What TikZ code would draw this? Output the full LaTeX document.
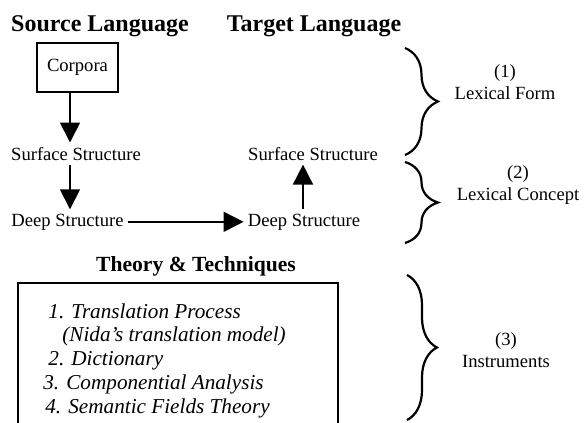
\documentclass[tikz,border=0pt]{standalone}
\usepackage{fontspec}
\setmainfont{Liberation Serif}
\usepackage{tikz}
\usetikzlibrary{arrows.meta,decorations.pathreplacing}
\tikzset{
  head label/.style={font=\fontsize{12}{14}\selectfont\bfseries,inner sep=0pt,anchor=base},
  level label/.style={font=\fontsize{9.3}{11}\selectfont,inner sep=2pt,anchor=base},
  corpus box/.style={draw,line width=1pt,minimum width=40.5pt,minimum height=24.5pt,inner sep=0pt,font=\fontsize{9.3}{11}\selectfont},
  flow arrow/.style={-{Triangle[length=10pt,width=10pt]},line width=0.85pt},
  group brace/.style={decorate,decoration={brace,amplitude=#1},line width=1.1pt},
  group label/.style={font=\fontsize{9.3}{11}\selectfont,align=center,inner sep=0pt},
  tool box/.style={draw,line width=1pt,anchor=north west,minimum width=160pt,minimum height=80pt},
  tool list/.style={font=\fontsize{10.6}{11.9}\selectfont\itshape,align=left,inner sep=0pt,anchor=north west}
}

\begin{document}
\begin{tikzpicture}[x=0.5pt,y=-0.5pt]
  \path[use as bounding box,clip] (0,0) rectangle (584,423);
  % languages
  \node[head label] (srclang) at (100,32) {Source Language};
  \node[head label] (tgtlang) at (314,32) {Target Language};
  \node[corpus box] (corpora) at (77.5,67.5) {Corpora};
  \node[level label] (srcsurf) at (76,160) {Surface Structure};
  \node[level label] (srcdeep) at (67.5,226) {Deep Structure};
  \node[level label] (tgtdeep) at (304,226) {Deep Structure};
  \node[level label] (tgtsurf) at (313,160) {Surface Structure};
  \draw[flow arrow] ([xshift=-3.75pt]corpora.south) -- ([xshift=-3.75pt]corpora.south |- srcsurf.north);
  \draw[flow arrow] ([xshift=-3pt]srcsurf.south) -- ([xshift=-3pt]srcsurf.south |- srcdeep.north);
  \draw[flow arrow] (srcdeep.east) -- (tgtdeep.west);
  \draw[flow arrow] ([xshift=-0.5pt]tgtdeep.north) -- ([xshift=-0.5pt]tgtdeep.north |- tgtsurf.south);
  % braces
  \coordinate (formtop) at (405,48);
  \coordinate (formbot) at (405,155);
  \coordinate (concepttop) at (405,162);
  \coordinate (conceptbot) at (405,243);
  \coordinate (tooltop) at (407,275);
  \coordinate (toolbot) at (407,420);
  \draw[group brace=16.5pt] (formtop) -- (formbot);
  \draw[group brace=16.5pt] (concepttop) -- (conceptbot);
  \draw[group brace=15pt] (tooltop) -- (toolbot);
  \node[group label] (formlab) at (505,82) {(1)\\Lexical Form};
  \node[group label] (conceptlab) at (518,185) {(2)\\Lexical Concept};
  \node[group label] (toollab) at (506,350) {(3)\\Instruments};
  % instruments
  \node[head label,font=\fontsize{10.8}{13}\selectfont\bfseries] (theory) at (196,271) {Theory \& Techniques};
  \node[tool box] (toolbox) at (17,282) {};
  \node[tool list] (tools) at ([shift={(26,21)}]toolbox.north west) {\hspace*{2.5pt}1. Translation Process\\
    \hspace*{9.5pt}(Nida's translation model)\\
    \hspace*{2.5pt}2. Dictionary\\
    3. Componential Analysis\\
    \hspace*{1pt}4. Semantic Fields Theory};
\end{tikzpicture}
\end{document}
